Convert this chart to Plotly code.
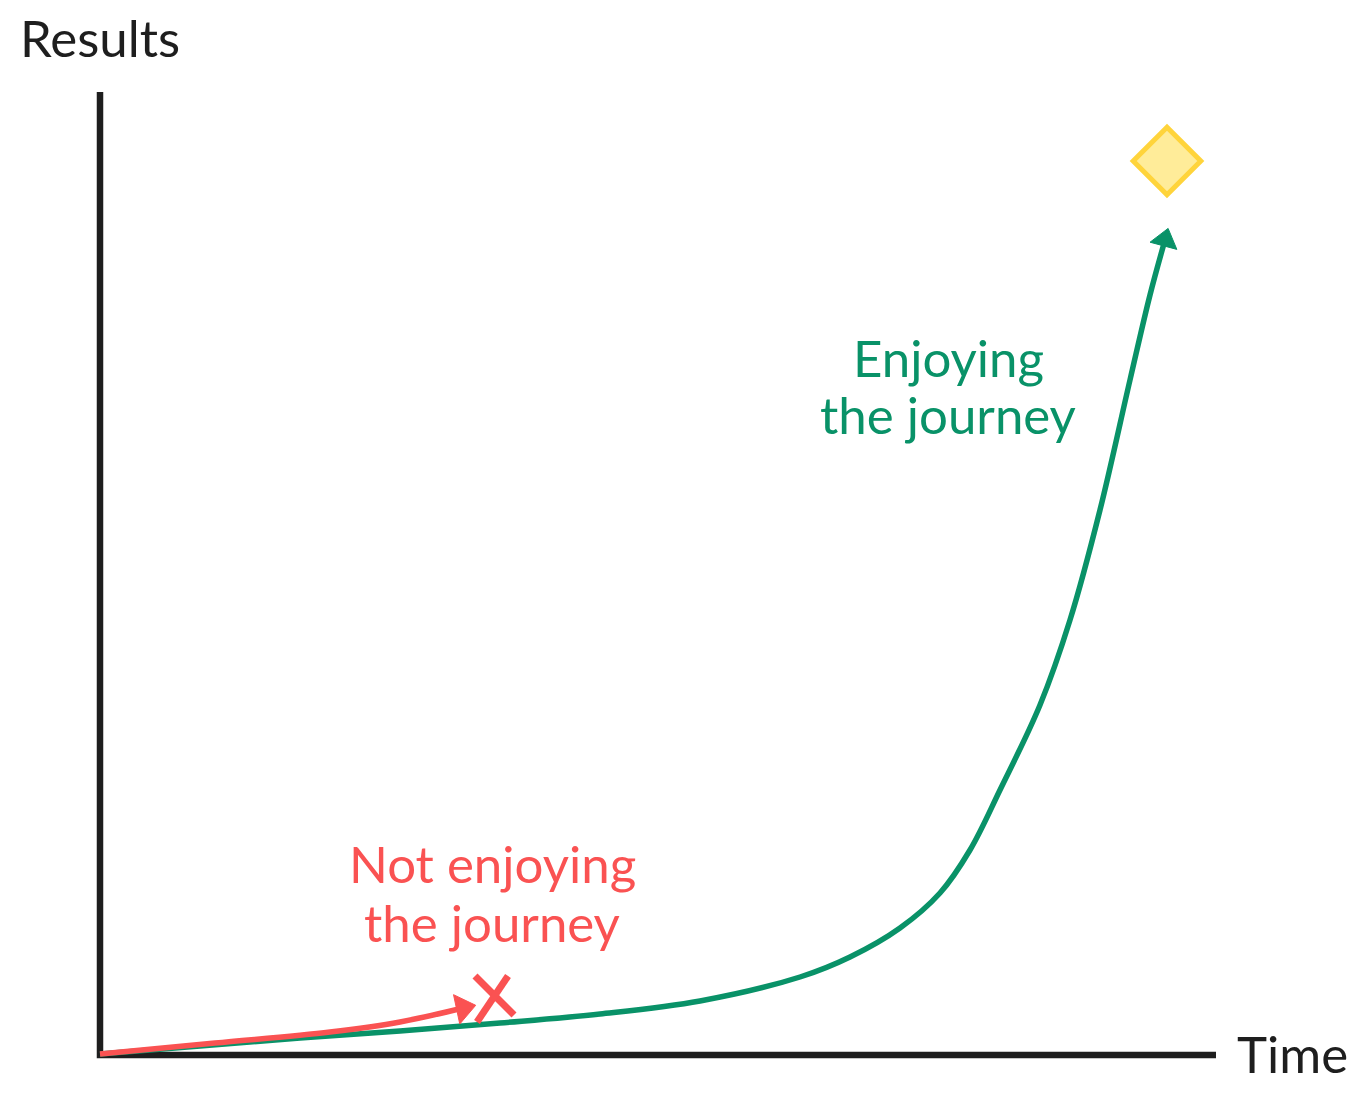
import plotly.graph_objects as go

axis_x = [100, 100, 1216]
axis_y = [92, 1055, 1055]

green_x = [100, 200, 300, 400, 500, 600, 700, 800, 850, 900, 940, 970, 1000, 1040, 1070, 1100, 1130, 1150, 1165]
green_y = [1054, 1046, 1038, 1031, 1023, 1014, 1001, 977, 957, 928, 893, 850, 790, 705, 620, 510, 380, 295, 240]

red_x = [100, 215, 330, 400, 463]
red_y = [1054, 1043, 1032, 1022, 1008]

cross_a_x = [475, 514]
cross_a_y = [976, 1015]
cross_b_x = [508, 477]
cross_b_y = [976, 1022]

goal_x = [1167]
goal_y = [161]

labels = ["Results", "Time", "Enjoying", "the journey", "Not enjoying", "the journey"]
label_x = [100, 1292, 948, 948, 492, 492]
label_y = [37, 1053, 357, 414, 863, 922]
label_colors = ["#1e1e1e", "#1e1e1e", "#099268", "#099268", "#fa5252", "#fa5252"]

INK = "#1e1e1e"
GREEN = "#099268"
RED = "#fa5252"

fig = go.Figure()

fig.add_trace(go.Scatter(x=axis_x, y=axis_y, mode="lines", line=dict(color=INK, width=6.5)))
fig.add_trace(go.Scatter(x=green_x, y=green_y, mode="lines",
                         line=dict(color=GREEN, width=5.5, shape="spline")))
fig.add_trace(go.Scatter(x=red_x, y=red_y, mode="lines",
                         line=dict(color=RED, width=5.5, shape="spline")))

# arrow heads
fig.add_trace(go.Scatter(x=green_x[-1:], y=green_y[-1:], mode="markers",
                         marker=dict(symbol="triangle-up", size=24, angle=15, color=GREEN,
                                     line=dict(color=GREEN, width=1))))
fig.add_trace(go.Scatter(x=red_x[-1:], y=red_y[-1:], mode="markers",
                         marker=dict(symbol="triangle-up", size=26, angle=78, color=RED,
                                     line=dict(color=RED, width=1))))

fig.add_trace(go.Scatter(x=cross_a_x, y=cross_a_y, mode="lines", line=dict(color=RED, width=7)))
fig.add_trace(go.Scatter(x=cross_b_x, y=cross_b_y, mode="lines", line=dict(color=RED, width=7)))

fig.add_trace(go.Scatter(x=goal_x, y=goal_y, mode="markers",
                         marker=dict(symbol="diamond", size=52, color="#ffec99",
                                     line=dict(color="#ffd43b", width=5))))

for text, x, y, color in zip(labels, label_x, label_y, label_colors):
    fig.add_annotation(x=x, y=y, text=text, showarrow=False,
                       font=dict(family="Lato", size=51, color=color))

# the page has an 8px body margin, so the plot starts 8px in
fig.update_layout(
    width=1352,
    height=1090,
    margin=dict(l=0, r=0, t=0, b=0),
    showlegend=False,
    paper_bgcolor="white",
    plot_bgcolor="white",
    xaxis=dict(range=[8, 1360], visible=False),
    yaxis=dict(range=[1098, 8], visible=False),
)

fig.write_html("out.html")
